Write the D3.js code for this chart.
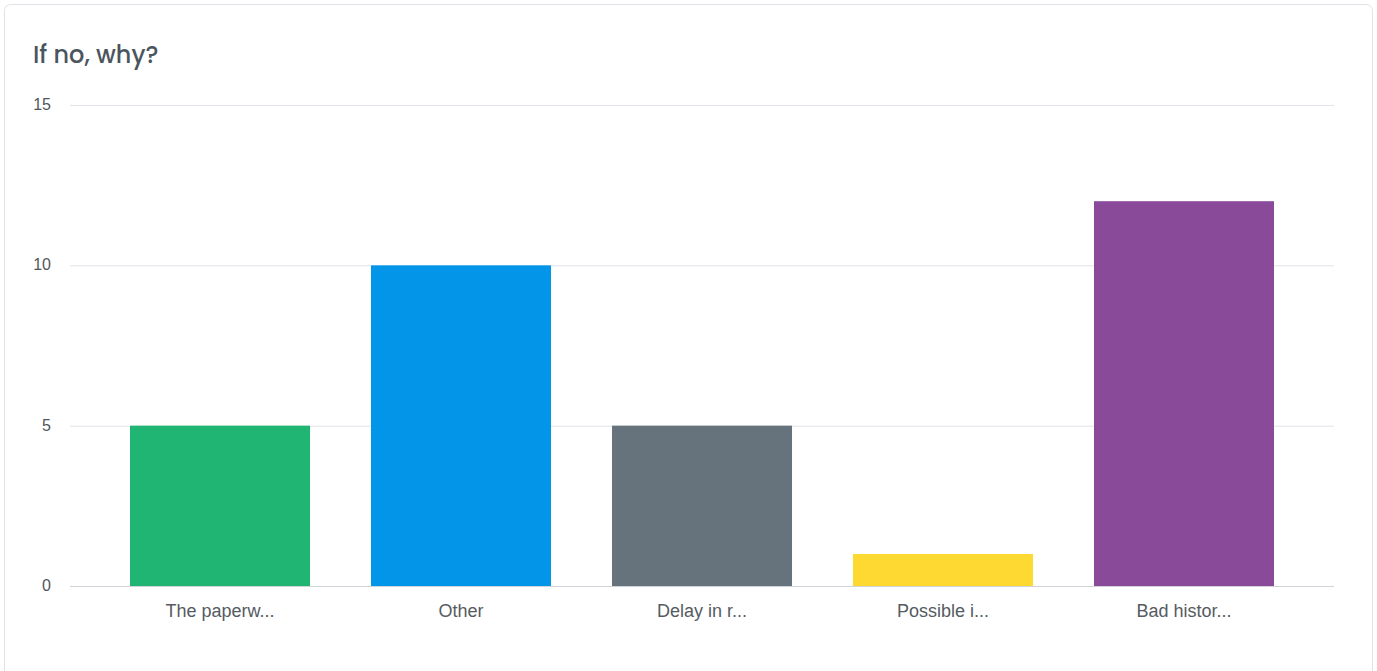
<!doctype html>
<html lang="en">
<head>
<meta charset="utf-8">
<title>If no, why?</title>
<script src="https://cdnjs.cloudflare.com/ajax/libs/d3/7.8.5/d3.min.js"></script>
<style>
  body { margin: 0; background: #fff; }
  svg { display: block; }
</style>
</head>
<body>
<div id="chart"></div>
<script>
const categories = ["The paperw...", "Other", "Delay in r...", "Possible i...", "Bad histor..."]
const values = [5, 10, 5, 1, 12]
const colors = ["#21b573", "#0396e8", "#67737c", "#fed931", "#8a4a9a"]
const yTicks = [0, 5, 10, 15]

const W = 1377, H = 671
const svg = d3.select("#chart").append("svg")
  .attr("width", W).attr("height", H)

// card
svg.append("rect")
  .attr("x", 4.5).attr("y", 4.5)
  .attr("width", 1368).attr("height", 680)
  .attr("rx", 6)
  .attr("fill", "#fff")
  .attr("stroke", "#dfe3e8")

svg.append("text")
  .attr("x", 33).attr("y", 63)
  .attr("font-family", "Poppins, 'Noto Sans', sans-serif")
  .attr("font-size", 24)
  .attr("font-weight", 500)
  .attr("fill", "#4b5560")
  .text("If no, why?")

const x = d3.scaleBand().domain(categories).range([70, 1334])
  .paddingInner(0.253).paddingOuter(0.249)
const y = d3.scaleLinear().domain([0, 15]).range([586, 105])

// grid
svg.append("g").selectAll("line").data(yTicks).join("line")
  .attr("x1", 70).attr("x2", 1334)
  .attr("y1", d => y(d) + 0.5).attr("y2", d => y(d) + 0.5)
  .attr("stroke", d => d === 0 ? "#cfd3d8" : "#e0e3e7")

svg.append("g").selectAll("text").data(yTicks).join("text")
  .attr("x", 51).attr("y", d => y(d) + 5)
  .attr("text-anchor", "end")
  .attr("font-family", "'Liberation Sans', Arial, sans-serif")
  .attr("font-size", 16)
  .attr("fill", "#50565c")
  .text(d => d)

// bars
svg.append("g").selectAll("rect").data(values).join("rect")
  .attr("x", (d, i) => x(categories[i]))
  .attr("width", x.bandwidth())
  .attr("y", d => y(d))
  .attr("height", d => y(0) - y(d))
  .attr("fill", (d, i) => colors[i])

// category labels
svg.append("g").selectAll("text").data(categories).join("text")
  .attr("x", d => x(d) + x.bandwidth() / 2)
  .attr("y", 617)
  .attr("text-anchor", "middle")
  .attr("font-family", "'Liberation Sans', Arial, sans-serif")
  .attr("font-size", 18)
  .attr("fill", "#555b62")
  .text(d => d)
</script>
</body>
</html>
